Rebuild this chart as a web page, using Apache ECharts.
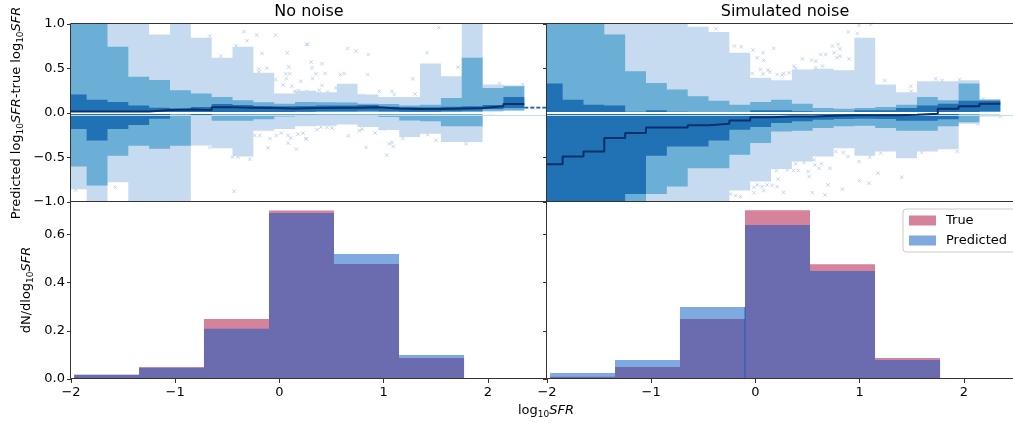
<!DOCTYPE html>
<html>
<head>
<meta charset="utf-8">
<script src="https://cdn.jsdelivr.net/npm/echarts@6/dist/echarts.min.js"></script>
<style>
  html, body { margin: 0; padding: 0; background: #fff; }
  #chart { width: 1013px; height: 423px; }
</style>
</head>
<body>
<div id="chart"></div>
<script>
// ---------- data ----------
// centres of the log10 SFR bins used for the residual percentiles
const binCenters = [-1.95, -1.75, -1.55, -1.35, -1.15, -0.95, -0.75, -0.55, -0.35, -0.15, 0.05,
                    0.25, 0.45, 0.65, 0.85, 1.05, 1.25, 1.45, 1.65, 1.85, 2.05, 2.25];

// "No noise": residual percentiles per bin
const noNoiseOuterLow  = [-0.857, -1.1, -0.778, -1.1, -1.1, -1.1, -0.365, -0.395, -0.49, -0.2, -0.18, -0.15,
                          -0.143, -0.13, -0.158, -0.19, -0.27, -0.233, -0.327, -0.327, 0.015, 0.023];
const noNoiseMidLow    = [-0.60, -0.816, -0.48, -0.368, -0.402, -0.368, -0.035, -0.086, -0.086, -0.07, -0.04, -0.03,
                          -0.02, -0.02, -0.02, -0.045, -0.083, -0.094, -0.15, -0.15, 0.026, 0.03];
const noNoiseDarkLow   = [-0.18, -0.308, -0.18, -0.135, -0.064, -0.01, -0.025, 0.0, 0.005, 0.01, 0.01, 0.015,
                          0.02, 0.02, 0.025, 0.02, 0.015, 0.015, 0.02, 0.025, 0.045, 0.056];
const noNoiseMedian    = [0.018, 0.018, 0.018, 0.018, 0.035, 0.04, 0.035, 0.065, 0.06, 0.055, 0.05, 0.055,
                          0.06, 0.06, 0.065, 0.05, 0.045, 0.045, 0.05, 0.055, 0.075, 0.10];
const noNoiseDarkHigh  = [0.207, 0.15, 0.124, 0.083, 0.06, 0.05, 0.068, 0.10, 0.09, 0.08, 0.075, 0.08,
                          0.085, 0.085, 0.09, 0.07, 0.065, 0.065, 0.07, 0.075, 0.09, 0.18];
const noNoiseMidHigh   = [1.1, 1.1, 0.744, 0.406, 0.372, 0.256, 0.218, 0.18, 0.143, 0.12, 0.105, 0.124,
                          0.12, 0.117, 0.105, 0.10, 0.083, 0.094, 0.169, 0.62, 0.28, 0.30];
const noNoiseOuterHigh = [1.1, 1.1, 1.1, 1.1, 0.883, 1.1, 0.846, 0.62, 0.744, 0.451, 0.218, 0.25,
                          0.233, 0.33, 0.207, 0.18, 0.18, 0.556, 0.414, 1.1, 0.32, 0.31];
// median carried past the last populated bin
const noNoiseTailX = [2.35, 2.62];
const noNoiseTailY = [0.06, 0.06];

// "Simulated noise": residual percentiles per bin
const simOuterLow  = [-1.1, -1.1, -1.1, -1.1, -1.1, -1.1, -1.1, -1.1, -1.1, -0.872, -0.77, -0.628,
                      -0.545, -0.489, -0.395, -0.481, -0.432, -0.508, -0.432, -0.406, -0.12, -0.038];
const simMidLow    = [-1.1, -1.1, -1.1, -1.1, -1.1, -0.91, -0.827, -0.62, -0.62, -0.47, -0.338, -0.207,
                      -0.2, -0.169, -0.15, -0.143, -0.169, -0.2, -0.2, -0.15, -0.105, 0.0];
const simDarkLow   = [-1.1, -1.1, -1.1, -1.1, -0.91, -0.481, -0.376, -0.376, -0.308, -0.188, -0.158, -0.113,
                      -0.094, -0.075, -0.068, -0.064, -0.068, -0.086, -0.086, -0.07, -0.012, 0.019];
const simMedian    = [-0.575, -0.489, -0.432, -0.282, -0.226, -0.162, -0.162, -0.139, -0.12, -0.083, -0.049, -0.038,
                      -0.038, -0.03, -0.026, -0.026, -0.026, -0.019, -0.008, 0.049, 0.075, 0.105];
const simDarkHigh  = [0.331, 0.15, 0.094, 0.083, 0.015, 0.03, 0.015, 0.005, 0.005, 0.005, 0.03, 0.03,
                      0.02, 0.015, 0.015, 0.03, 0.03, 0.056, 0.083, 0.105, 0.139, 0.139];
const simMidHigh   = [1.1, 1.1, 1.1, 0.883, 0.47, 0.338, 0.263, 0.188, 0.139, 0.094, 0.124, 0.15,
                      0.105, 0.056, 0.049, 0.056, 0.068, 0.094, 0.18, 0.143, 0.331, 0.15];
const simOuterHigh = [1.1, 1.1, 1.1, 1.1, 1.1, 1.1, 1.1, 0.97, 0.91, 0.677, 0.395, 0.368,
                      0.489, 0.496, 0.481, 0.846, 0.32, 0.233, 0.357, 0.357, 0.368, 0.158];

// individual galaxies outside the outer percentile band [log10 SFR, residual]
const noNoiseOutliers = [
  [-0.669, 0.865], [-0.563, 0.639], [-0.34, 0.914], [-0.311, 0.812], [-0.218, 0.876], [-0.036, 0.876],
  [-0.416, 0.752], [-0.167, 0.669], [0.076, 0.677], [0.262, 0.771], [-0.199, 0.496], [-0.12, 0.504],
  [-0.196, 0.462], [0.089, 0.519], [0.06, 0.44], [0.098, 0.44], [-0.036, 0.376], [0.067, 0.387],
  [0.204, 0.357], [0.035, 0.316], [0.12, 0.30], [0.146, 0.244], [0.185, 0.252], [0.262, 0.244],
  [-0.669, -0.387], [-0.451, -0.496], [-0.397, -0.496], [-0.285, -0.519], [-0.435, -0.88], [-1.575, -0.835],
  [-1.955, -0.865], [-0.237, -0.252], [-0.189, -0.252], [-0.09, -0.286], [-0.029, -0.252], [0.019, -0.226],
  [0.083, -0.252], [0.108, -0.282], [0.083, -0.338], [0.163, -0.406], [-0.109, -0.391], [0.179, -0.237],
  [0.227, -0.226], [0.259, -0.29],
  [0.271, 0.771], [0.303, 0.571], [0.409, 0.553], [0.313, 0.508], [0.319, 0.387], [0.351, 0.44],
  [0.438, 0.444], [0.409, 0.308], [0.383, 0.256], [0.463, 0.237], [0.543, 0.282], [0.585, 0.432],
  [0.623, 0.444], [0.655, 0.726], [0.735, 0.695], [0.853, 0.658], [0.847, 0.432], [0.774, 0.195],
  [0.806, 0.195], [0.911, 0.188], [0.959, 0.244], [1.081, 0.244], [1.103, 0.207], [1.279, 0.383],
  [1.301, 0.214], [1.417, 0.677], [1.528, 0.959], [1.714, 0.515], [2.11, 0.331], [2.335, 0.32], [2.43, 0.056],
  [0.255, -0.289], [0.361, -0.188], [0.399, -0.158], [0.457, -0.162], [0.505, -0.169], [0.662, -0.256],
  [0.767, -0.199], [0.793, -0.18], [0.831, -0.387], [0.918, -0.226], [0.991, -0.18], [1.055, -0.346],
  [1.081, -0.331], [1.093, -0.376], [1.029, -0.474], [1.183, -0.286], [1.423, -0.244], [1.503, -0.308],
  [1.791, -0.346], [2.031, 0.0]
];
const simOutliers = [
  [-0.377, 0.947], [-0.201, 0.752], [-0.137, 0.744], [-0.022, 0.707], [0.074, 0.677], [0.176, 0.726],
  [0.017, 0.62], [0.08, 0.59], [0.049, 0.489], [0.12, 0.481], [0.138, 0.459], [-0.031, 0.444],
  [0.074, 0.44], [0.208, 0.432], [0.256, 0.425],
  [0.202, -0.647], [0.218, -0.744], [0.017, -0.808], [0.064, -0.827], [0.112, -0.808], [0.16, -0.816],
  [0.208, -0.827], [-0.015, -0.835], [-0.015, -0.895], [0.08, -0.872], [-0.191, -0.929], [-0.143, -0.94],
  [-0.239, -0.91],
  [0.269, 0.444], [0.323, 0.451], [0.371, 0.526], [0.451, 0.609], [0.538, 0.594], [0.579, 0.583],
  [0.627, 0.658], [0.675, 0.658], [0.739, 0.752], [0.793, 0.771], [0.755, 0.677], [0.812, 0.722],
  [0.78, 0.62], [0.812, 0.639], [0.899, 0.609], [0.892, 0.91], [0.979, 0.895], [0.995, 0.985],
  [1.106, 0.996], [0.643, 0.526], [0.579, 0.508], [0.387, 0.496], [1.241, 0.365], [1.49, 0.301],
  [1.496, 0.244], [1.73, 0.383], [1.793, 0.365], [1.96, 0.376], [2.187, 0.158],
  [0.307, -0.639], [0.365, -0.647], [0.41, -0.647], [0.387, -0.571], [0.467, -0.556], [0.506, -0.658],
  [0.515, -0.714], [0.563, -0.526], [0.57, -0.583], [0.611, -0.62], [0.634, -0.571], [0.717, -0.62],
  [0.771, -0.432], [0.844, -0.444], [0.889, -0.489], [0.995, -0.545], [1.097, -0.496], [1.202, -0.451],
  [1.177, -0.677], [0.998, -0.759], [1.09, -0.789], [1.404, -0.722], [0.697, -0.808], [0.835, -0.857],
  [0.547, -0.895], [0.669, -0.921], [0.269, -0.891], [1.595, -0.444], [1.937, -0.432], [2.135, -0.12],
  [2.353, -0.038]
];

// normalised SFR distributions
const histEdges     = [-1.97, -1.347, -0.724, -0.1, 0.524, 1.148, 1.772, 2.396];
const noNoiseTrue   = [0.018, 0.050, 0.249, 0.700, 0.478, 0.087, 0.002];
const noNoisePred   = [0.018, 0.046, 0.209, 0.689, 0.519, 0.100, 0.002];
const simTrue       = [0.009, 0.050, 0.249, 0.701, 0.477, 0.087, 0.002];
const simPred       = [0.025, 0.079, 0.299, 0.639, 0.448, 0.079, 0.002];

// tick values
const xTicks = [-2, -1, 0, 1, 2];
const residTicks = [-1.0, -0.5, 0.0, 0.5, 1.0];
const histTicks = [0.0, 0.2, 0.4, 0.6];

// ---------- layout & style ----------
const FONT = 'DejaVu Sans';
const X_MIN = -2, X_MAX = 2.568;
const R_MIN = -1, R_MAX = 1;
const H_MIN = 0, H_MAX = 0.735;
const panels = [
  { left: 71,  top: 24,  width: 476, height: 178 },
  { left: 547, top: 24,  width: 476, height: 178 },
  { left: 71,  top: 202, width: 476, height: 177 },
  { left: 547, top: 202, width: 476, height: 177 }
];
const BLUE_LIGHT = '#c6dbef', BLUE_MID = '#6baed6', BLUE_DARK = '#2171b5', BLUE_NAVY = '#08306b';
const TRUE_COLOR = 'rgba(169,7,55,0.5)', PRED_COLOR = 'rgba(0,85,195,0.5)';
const SPINE = '#333';

const halfWidth = (binCenters[1] - binCenters[0]) / 2;
const minus = s => s.replace('-', '\u2212');

function clampTo(p, yLo, yHi) {
  return [Math.min(Math.max(p[0], X_MIN), X_MAX), Math.min(Math.max(p[1], yLo), yHi)];
}

// closed step outline between a lower and an upper percentile curve
function bandPolygon(low, high) {
  const pts = [];
  binCenters.forEach((c, k) => { pts.push([c - halfWidth, high[k]], [c + halfWidth, high[k]]); });
  for (let k = binCenters.length - 1; k >= 0; k--) {
    pts.push([binCenters[k] + halfWidth, low[k]], [binCenters[k] - halfWidth, low[k]]);
  }
  return pts;
}

// filled step histogram outline
function histPolygon(values) {
  const pts = [[histEdges[0], 0]];
  values.forEach((v, i) => pts.push([histEdges[i], v], [histEdges[i + 1], v]));
  pts.push([histEdges[histEdges.length - 1], 0]);
  return pts;
}

function stepLine(values) {
  const d = [];
  binCenters.forEach((c, k) => d.push([c - halfWidth, values[k]], [c + halfWidth, values[k]]));
  return d;
}

function polygonSeries(name, idx, pts, color, z, yLo, yHi) {
  return {
    type: 'custom', name, xAxisIndex: idx, yAxisIndex: idx, silent: true, z,
    itemStyle: { color },
    data: [[0, 0]],
    renderItem: (params, api) => ({
      type: 'polygon',
      shape: { points: pts.map(p => api.coord(clampTo(p, yLo, yHi))) },
      style: { fill: color }
    })
  };
}

function residualSeries(idx, b, outliers) {
  return [
    { type: 'line', xAxisIndex: idx, yAxisIndex: idx, data: [], silent: true, z: 1,
      markLine: { symbol: 'none', silent: true, animation: false, label: { show: false },
        lineStyle: { color: BLUE_LIGHT, width: 1, type: 'solid' }, data: [{ yAxis: -0.02 }] } },
    { type: 'scatter', xAxisIndex: idx, yAxisIndex: idx, data: outliers, silent: true, z: 1,
      symbol: 'path://M0,0L10,10M10,0L0,10', symbolSize: 3.5,
      itemStyle: { color: 'rgba(0,0,0,0)', borderColor: '#b4cdea', borderWidth: 1 } },
    polygonSeries('outer', idx, bandPolygon(b.outerLow, b.outerHigh), BLUE_LIGHT, 2, R_MIN, R_MAX),
    polygonSeries('mid', idx, bandPolygon(b.midLow, b.midHigh), BLUE_MID, 3, R_MIN, R_MAX),
    polygonSeries('dark', idx, bandPolygon(b.darkLow, b.darkHigh), BLUE_DARK, 4, R_MIN, R_MAX),
    { type: 'line', xAxisIndex: idx, yAxisIndex: idx, data: [], silent: true, z: 5,
      markLine: { symbol: 'none', silent: true, animation: false, label: { show: false },
        lineStyle: { color: '#ffffff', width: 2, type: 'solid' }, data: [{ yAxis: 0 }] } },
    { type: 'line', xAxisIndex: idx, yAxisIndex: idx, data: stepLine(b.median), silent: true, z: 6,
      showSymbol: false, symbol: 'none', lineStyle: { color: BLUE_NAVY, width: 2 } }
  ];
}

const series = [].concat(
  residualSeries(0, {
    outerLow: noNoiseOuterLow, outerHigh: noNoiseOuterHigh, midLow: noNoiseMidLow, midHigh: noNoiseMidHigh,
    darkLow: noNoiseDarkLow, darkHigh: noNoiseDarkHigh, median: noNoiseMedian
  }, noNoiseOutliers),
  [{ type: 'line', xAxisIndex: 0, yAxisIndex: 0, silent: true, z: 6, clip: false,
     data: noNoiseTailX.map((x, i) => [x, noNoiseTailY[i]]), showSymbol: false, symbol: 'none',
     lineStyle: { color: '#1f5ea8', width: 1.6, type: [4, 2] } }],
  residualSeries(1, {
    outerLow: simOuterLow, outerHigh: simOuterHigh, midLow: simMidLow, midHigh: simMidHigh,
    darkLow: simDarkLow, darkHigh: simDarkHigh, median: simMedian
  }, simOutliers),
  [
    polygonSeries('True', 2, histPolygon(noNoiseTrue), TRUE_COLOR, 2, H_MIN, H_MAX),
    polygonSeries('Predicted', 2, histPolygon(noNoisePred), PRED_COLOR, 3, H_MIN, H_MAX),
    polygonSeries('True', 3, histPolygon(simTrue), TRUE_COLOR, 2, H_MIN, H_MAX),
    polygonSeries('Predicted', 3, histPolygon(simPred), PRED_COLOR, 3, H_MIN, H_MAX),
    // edge of the predicted bin that rises above the true one
    { type: 'line', xAxisIndex: 3, yAxisIndex: 3, silent: true, z: 4, showSymbol: false, symbol: 'none',
      data: [[histEdges[3], 0], [histEdges[3], simPred[2]]],
      lineStyle: { color: 'rgba(0,85,195,0.7)', width: 1 } }
  ]
);

const tickStyle = { show: true, length: 4, inside: false, lineStyle: { color: SPINE, width: 1 } };
const labelStyle = { fontFamily: FONT, fontSize: 13, color: '#000' };

const xAxes = panels.map((p, i) => ({
  type: 'value', gridIndex: i, min: X_MIN, max: X_MAX, interval: 1, position: 'bottom',
  axisLine: { show: false, onZero: false }, splitLine: { show: false },
  axisTick: i >= 2 ? tickStyle : { show: false },
  axisLabel: i >= 2 ? Object.assign({ show: true, margin: 7, showMaxLabel: false,
    formatter: v => (xTicks.includes(v) ? minus(String(v)) : '') }, labelStyle) : { show: false }
}));

const yAxes = panels.map((p, i) => {
  const top = i < 2;
  const ticks = top ? residTicks : histTicks;
  return {
    type: 'value', gridIndex: i, position: 'left',
    min: top ? R_MIN : H_MIN, max: top ? R_MAX : H_MAX, interval: top ? 0.5 : 0.2,
    axisLine: { show: false, onZero: false }, splitLine: { show: false }, axisTick: tickStyle,
    axisLabel: (i === 0 || i === 2) ? Object.assign({ show: true, margin: 6, showMaxLabel: top,
      formatter: v => (ticks.some(t => Math.abs(t - v) < 1e-9) ? minus(v.toFixed(1)) : '') }, labelStyle)
      : { show: false }
  };
});

const richText = {
  n:   { fontFamily: FONT, fontSize: 13, lineHeight: 16, fill: '#000' },
  sub: { fontFamily: FONT, fontSize: 9, lineHeight: 9, verticalAlign: 'bottom', fill: '#000' },
  it:  { fontFamily: FONT, fontSize: 13, lineHeight: 16, fontStyle: 'italic', fill: '#000' }
};

const frames = panels.map(p => ({
  type: 'rect', silent: true, z: 100,
  shape: { x: p.left - 0.5, y: p.top - 0.5, width: p.width, height: p.height },
  style: { fill: 'none', stroke: SPINE, lineWidth: 1 }
}));

const texts = [
  { type: 'text', x: 309, y: 12, silent: true, z: 100,
    style: { text: 'No noise', fontFamily: FONT, fontSize: 16, fill: '#000', align: 'center', verticalAlign: 'middle' } },
  { type: 'text', x: 785, y: 12, silent: true, z: 100,
    style: { text: 'Simulated noise', fontFamily: FONT, fontSize: 16, fill: '#000', align: 'center', verticalAlign: 'middle' } },
  { type: 'text', x: 17, y: 113, rotation: Math.PI / 2, silent: true, z: 100,
    style: { text: '{n|Predicted log}{sub|10}{it|SFR}{n|-true log}{sub|10}{it|SFR}', rich: richText,
      align: 'center', verticalAlign: 'middle' } },
  { type: 'text', x: 27, y: 290, rotation: Math.PI / 2, silent: true, z: 100,
    style: { text: '{n|dN/dlog}{sub|10}{it|SFR}', rich: richText, align: 'center', verticalAlign: 'middle' } },
  { type: 'text', x: 546, y: 411, silent: true, z: 100,
    style: { text: '{n|log}{sub|10}{it|SFR}', rich: richText, align: 'center', verticalAlign: 'middle' } }
];

const chart = echarts.init(document.getElementById('chart'), null, { renderer: 'canvas' });
chart.setOption({
  animation: false,
  backgroundColor: '#fff',
  textStyle: { fontFamily: FONT },
  grid: panels.map(p => Object.assign({ outerBoundsMode: 'none', containLabel: false, show: false }, p)),
  xAxis: xAxes,
  yAxis: yAxes,
  legend: {
    orient: 'vertical', left: 903, top: 209, selectedMode: false, z: 50,
    data: ['True', 'Predicted'], icon: 'rect', itemWidth: 27, itemHeight: 10, itemGap: 7,
    padding: [5, 10, 5, 6], backgroundColor: 'rgba(255,255,255,0.8)',
    borderColor: '#cccccc', borderWidth: 1, borderRadius: 3,
    textStyle: { fontFamily: FONT, fontSize: 13, color: '#000', padding: [0, 0, 0, 5] }
  },
  graphic: frames.concat(texts),
  series
});
</script>
</body>
</html>
